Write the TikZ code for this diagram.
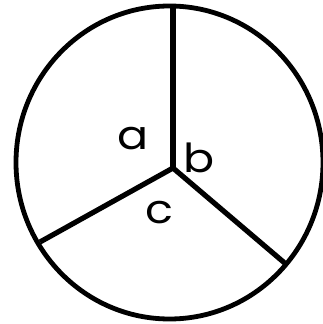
\documentclass[tikz,border=0pt]{standalone}
\usepackage{fontspec}
\setmainfont{Poppins}
\begin{document}
\begin{tikzpicture}[x=1pt,y=1pt,
  rim/.style={line width=4.8pt},
  spoke/.style={line width=5.2pt},
  lbl/.style={inner sep=0pt,font=\fontsize{40}{44}\selectfont}]
\useasboundingbox (0,0) rectangle (323,324);
\coordinate (O) at (173,156);
\coordinate (T) at (173,318);
\coordinate (L) at (40,82);
\coordinate (R) at (287,59);
\draw[spoke] (O) -- (T);
\draw[spoke] (O) -- (L);
\draw[spoke] (O) -- (R);
\draw[rim] (169.5,161.5) ellipse [x radius=153.5, y radius=156.5];
\node[lbl,xscale=1.15] (a) at (133.5,185) {a};
\node[lbl,xscale=1.15] (b) at (199.5,166) {b};
\node[lbl,xscale=1.15] (c) at (159,111.5) {c};
\end{tikzpicture}
\end{document}
